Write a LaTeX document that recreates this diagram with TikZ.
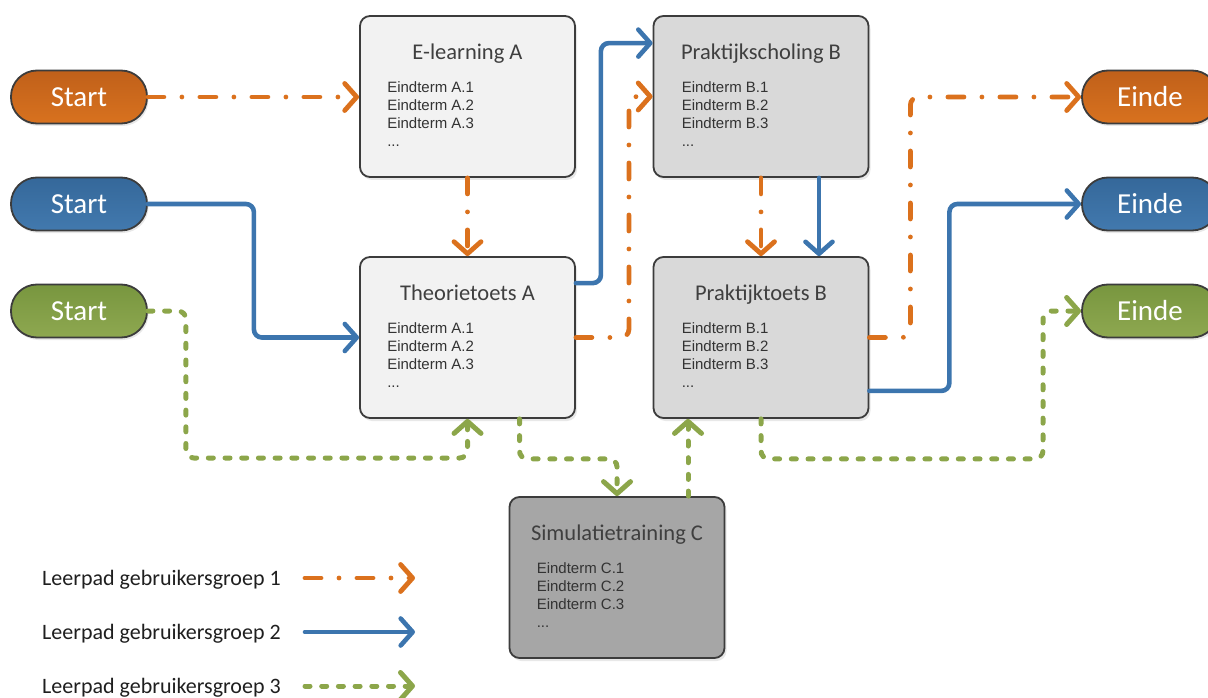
\documentclass[tikz,border=0pt]{standalone}
\usepackage{fontspec}
\setmainfont{Carlito}
\newfontfamily\arialf{Liberation Sans}
\usetikzlibrary{arrows.meta,calc,shadows}
\definecolor{orl}{HTML}{DB711D}
\definecolor{bll}{HTML}{3C75AE}
\definecolor{grl}{HTML}{8CA64A}
\definecolor{ortop}{HTML}{C0601A}
\definecolor{orbot}{HTML}{D8721F}
\definecolor{bltop}{HTML}{35689A}
\definecolor{blbot}{HTML}{4279AE}
\definecolor{grtop}{HTML}{78963F}
\definecolor{grbot}{HTML}{8EA850}
\definecolor{edge}{HTML}{3C3C3C}
\definecolor{fillA}{HTML}{F2F2F2}
\definecolor{fillB}{HTML}{D9D9D9}
\definecolor{fillC}{HTML}{A6A6A6}
\definecolor{titlecol}{HTML}{3F3F3F}
\definecolor{bodycol}{HTML}{333333}
\begin{document}
\begin{tikzpicture}[x=1pt,y=-1pt,
  pill/.style={draw=edge, line width=1.8pt, rounded corners=26pt,
    minimum width=136pt, minimum height=53pt, inner sep=0pt, text=white,
    font=\fontsize{29}{30}\selectfont,
    drop shadow={opacity=0.18, shadow xshift=1.5pt, shadow yshift=-2.5pt}},
  box/.style={draw=edge, line width=1.8pt, rounded corners=10pt,
    minimum width=215pt, minimum height=161pt, inner sep=0pt,
    drop shadow={opacity=0.18, shadow xshift=2pt, shadow yshift=-3pt}},
  ttl/.style={font=\fontsize{22.5}{26}\selectfont, text=titlecol, inner sep=0pt, anchor=base},
  bod/.style={font=\arialf\fontsize{15}{18}\selectfont, text=bodycol, align=left,
    inner sep=0pt, anchor=north west},
  leg/.style={font=\fontsize{22}{26}\selectfont, text=black!88, inner sep=0pt, anchor=base west},
  con/.style={line width=4.6pt, rounded corners=8pt, line cap=round,
    -{Straight Barb[length=12pt,width=27pt,round]}},
  ora/.style={con, draw=orl, line width=4.8pt, dash pattern=on 16pt off 18pt on 0pt off 18pt},
  blu/.style={con, draw=bll},
  grn/.style={con, draw=grl, line width=5pt, dash pattern=on 5pt off 11.7pt}
]
\useasboundingbox (0,0) rectangle (1208,698);

% pills
\node[pill, top color=ortop, bottom color=orbot] (so) at (79,97) {Start};
\node[pill, top color=bltop, bottom color=blbot] (sb) at (79,204) {Start};
\node[pill, top color=grtop, bottom color=grbot] (sg) at (79,311) {Start};
\node[pill, top color=ortop, bottom color=orbot] (eo) at (1150,97) {Einde};
\node[pill, top color=bltop, bottom color=blbot] (eb) at (1150,204) {Einde};
\node[pill, top color=grtop, bottom color=grbot] (eg) at (1150,311) {Einde};

% boxes
\node[box, fill=fillA] (ela) at (467.5,96.5) {};
\node[ttl] (elat) at ($(ela.north)+(0,44)$) {E-learning A};
\node[bod] (elab) at ($(ela.north west)+(28,66)$) {Eindterm A.1\\Eindterm A.2\\Eindterm A.3\\...};

\node[box, fill=fillA] (tta) at (467.5,337.5) {};
\node[ttl] (ttat) at ($(tta.north)+(0,44)$) {Theorietoets A};
\node[bod] (ttab) at ($(tta.north west)+(28,66)$) {Eindterm A.1\\Eindterm A.2\\Eindterm A.3\\...};

\node[box, fill=fillB] (psb) at (761,96.5) {};
\node[ttl] (psbt) at ($(psb.north)+(0,44)$) {Praktijkscholing B};
\node[bod] (psbb) at ($(psb.north west)+(29,66)$) {Eindterm B.1\\Eindterm B.2\\Eindterm B.3\\...};

\node[box, fill=fillB] (ptb) at (761,337.5) {};
\node[ttl] (ptbt) at ($(ptb.north)+(0,44)$) {Praktijktoets B};
\node[bod] (ptbb) at ($(ptb.north west)+(29,66)$) {Eindterm B.1\\Eindterm B.2\\Eindterm B.3\\...};

\node[box, fill=fillC] (sim) at (617,577.5) {};
\node[ttl] (simt) at ($(sim.north)+(0,44)$) {Simulatietraining C};
\node[bod] (simb) at ($(sim.north west)+(28,66)$) {Eindterm C.1\\Eindterm C.2\\Eindterm C.3\\...};

% orange path
\draw[ora] (so.east) -- (so.east -| ela.west);
\draw[ora] (ela.south) -- (tta.north);
\draw[ora] (tta.east) -- ++(53,0) |- (psb.west);
\draw[ora] (psb.south) -- (ptb.north);
\draw[ora] (ptb.east) -- ++(41,0) |- (eo.west);

% blue path
\draw[blu] (sb.east) -- ++(106,0) |- (tta.west);
\coordinate (b2s) at ($(tta.north east)+(0,27)$);
\coordinate (b2e) at ($(psb.north west)+(0,28)$);
\draw[blu] (b2s) -- ++(25,0) |- (b2e);
\coordinate (b3s) at ($(psb.south)+(58,0)$);
\draw[blu] (b3s) -- (b3s |- ptb.north);
\coordinate (b4s) at ($(ptb.south east)+(0,-28)$);
\draw[blu] (b4s) -- ++(80,0) |- (eb.west);

% green path
\draw[grn] (sg.east) -- ++(38,0) -- ++(0,147) -| (tta.south);
\coordinate (g2s) at ($(tta.south)+(52,0)$);
\draw[grn] (g2s) -- ++(0,40) -| (sim.north);
\coordinate (g3s) at ($(sim.north)+(71,0)$);
\draw[grn] (g3s) -- (g3s |- ptb.south);
\draw[grn] (ptb.south) -- ++(0,40) -- ++(282,0) |- (eg.west);

% legend
\node[leg] (lg1) at (42,585) {Leerpad gebruikersgroep 1};
\node[leg] (lg2) at (42,639) {Leerpad gebruikersgroep 2};
\node[leg] (lg3) at (42,693) {Leerpad gebruikersgroep 3};
\coordinate (l1a) at (305,578); \coordinate (l1b) at (415,578);
\coordinate (l2a) at (305,632); \coordinate (l2b) at (415,632);
\coordinate (l3a) at (305,686); \coordinate (l3b) at (415,686);
\draw[ora] (l1a) -- (l1b);
\draw[blu] (l2a) -- (l2b);
\draw[grn] (l3a) -- (l3b);
\end{tikzpicture}
\end{document}
